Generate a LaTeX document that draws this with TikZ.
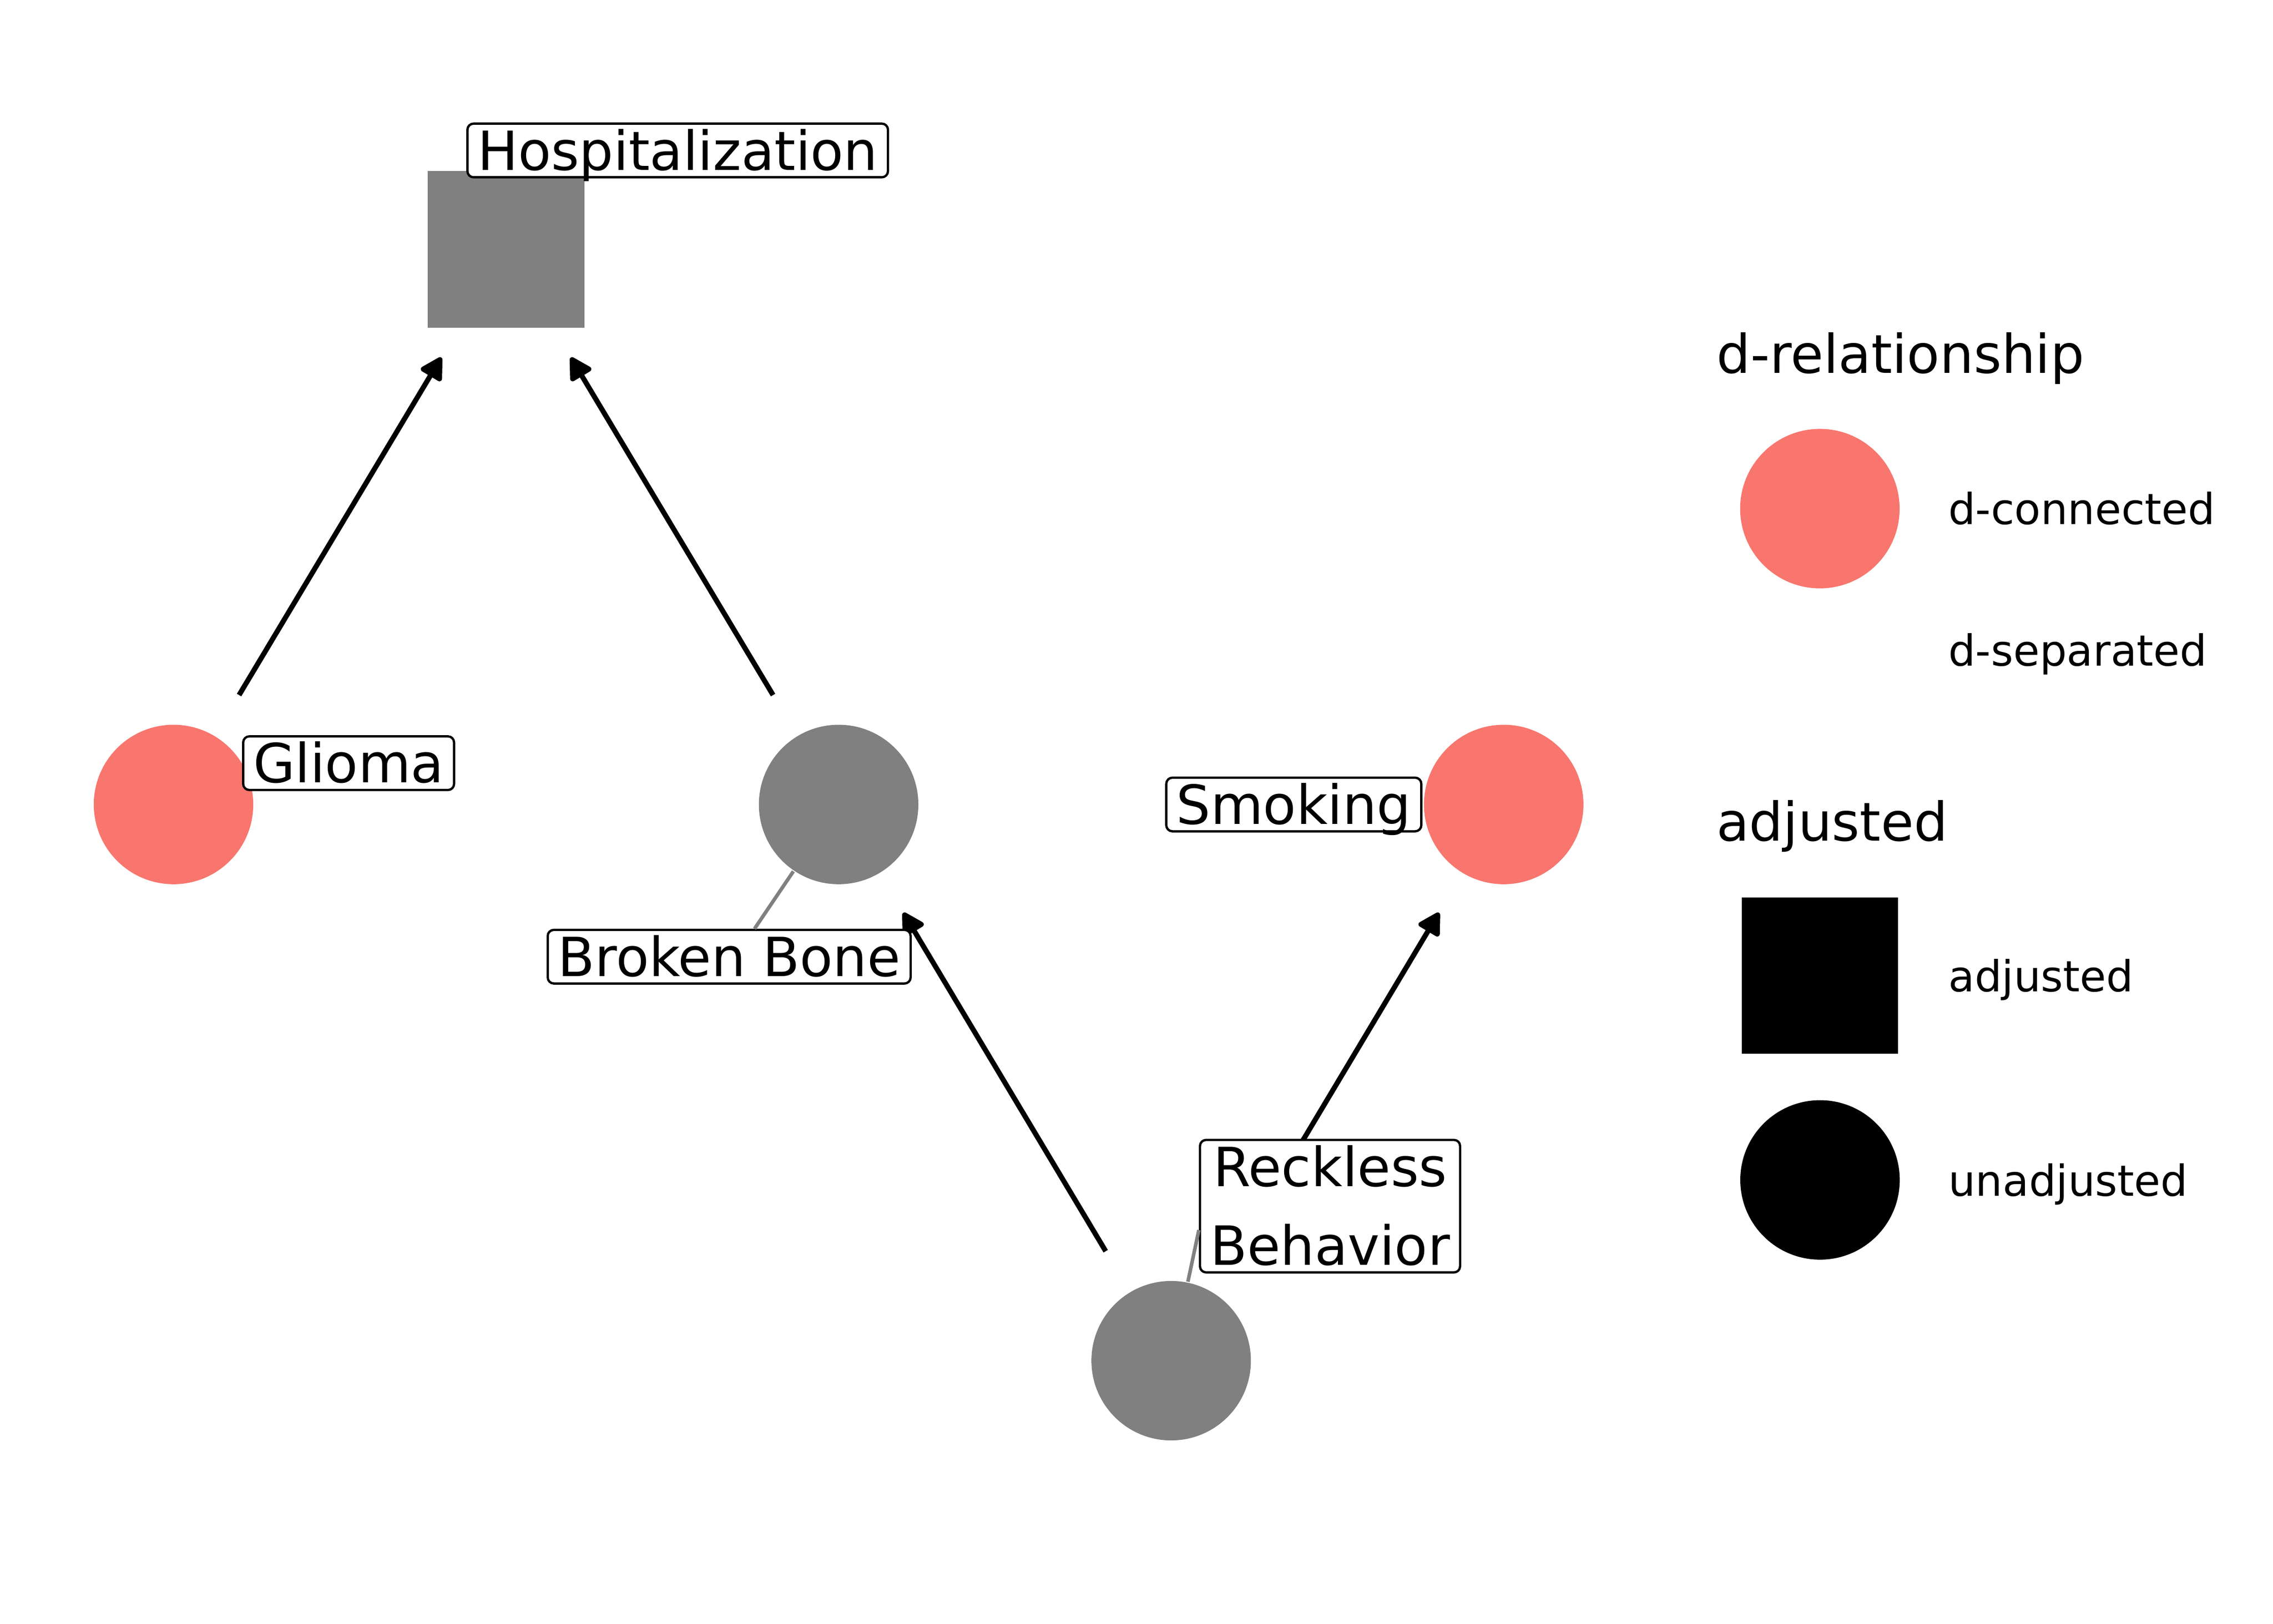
\documentclass[tikz,border=0pt]{standalone}
\usepackage{fontspec}
\setmainfont{DejaVu Sans}
\usetikzlibrary{arrows.meta}
\definecolor{dconn}{HTML}{F8766D}
\definecolor{nacol}{HTML}{808080}

\begin{document}
\begin{tikzpicture}[
	var/.style={circle, fill=nacol, inner sep=0pt, minimum size=1.1cm},
	adjvar/.style={rectangle, fill=nacol, inner sep=0pt, minimum size=1.08cm},
	lab/.style={draw, fill=white, rounded corners=1.2pt, line width=0.45pt, inner xsep=0.07cm, inner ysep=0.05cm, text height=0.27cm, text depth=0pt, font=\fontsize{10.6}{15.42}\selectfont},
	edge/.style={line width=1pt, line join=round, -{Triangle[length=0.17cm, width=0.18cm, round]}, shorten <=0.88cm, shorten >=0.87cm},
	seg/.style={draw=nacol, line width=0.7pt},
	legtitle/.style={anchor=base west, inner sep=0pt, font=\fontsize{10.5}{12}\selectfont},
	legtext/.style={anchor=base west, inner sep=0pt, font=\fontsize{8.4}{10}\selectfont}
	]
	\path [use as bounding box] (0,0) rectangle (15.68,11.2);
	\node[adjvar] (hosp) at (3.491,9.48) {};
	\node[var, fill=dconn] (gl) at (1.197,5.65) {};
	\node[var] (bb) at (5.785,5.65) {};
	\node[var, fill=dconn] (sm) at (10.373,5.65) {};
	\node[var] (rb) at (8.079,1.813) {};
	\draw[edge] (gl.center) -- (hosp.center);
	\draw[edge] (bb.center) -- (hosp.center);
	\draw[edge] (rb.center) -- (bb.center);
	\draw[edge] (rb.center) -- (sm.center);
	\node[lab] (bblab) at (5.03,4.60) {Broken Bone};
	\node[lab, align=center, text height=0.814cm] (rblab) at (9.175,2.879) {Reckless\\Behavior};
	\draw[seg] ([xshift=0.175cm]bblab.north) -- (bb);
	\draw[seg] ([yshift=-0.165cm]rblab.west) -- (rb);
	\node[lab] (hosplab) at (4.675,10.162) {Hospitalization};
	\node[lab] (gllab) at (2.405,5.935) {Glioma};
	\node[lab] (smlab) at (8.925,5.65) {Smoking};
	\node[legtitle] (dreltitle) at (11.834,8.624) {d-relationship};
	\node[var, fill=dconn] (dconnkey) at (12.554,7.691) {};
	\node[legtext] (dconnlab) at (13.434,7.584) {d-connected};
	\node[legtext] (dseplab) at (13.434,6.605) {d-separated};
	\node[legtitle] (adjtitle) at (11.834,5.40) {adjusted};
	\node[adjvar, fill=black] (adjkey) at (12.555,4.47) {};
	\node[legtext] (adjlab) at (13.434,4.36) {adjusted};
	\node[var, fill=black] (unadjkey) at (12.555,3.06) {};
	\node[legtext] (unadjlab) at (13.434,2.95) {unadjusted};
\end{tikzpicture}
\end{document}
